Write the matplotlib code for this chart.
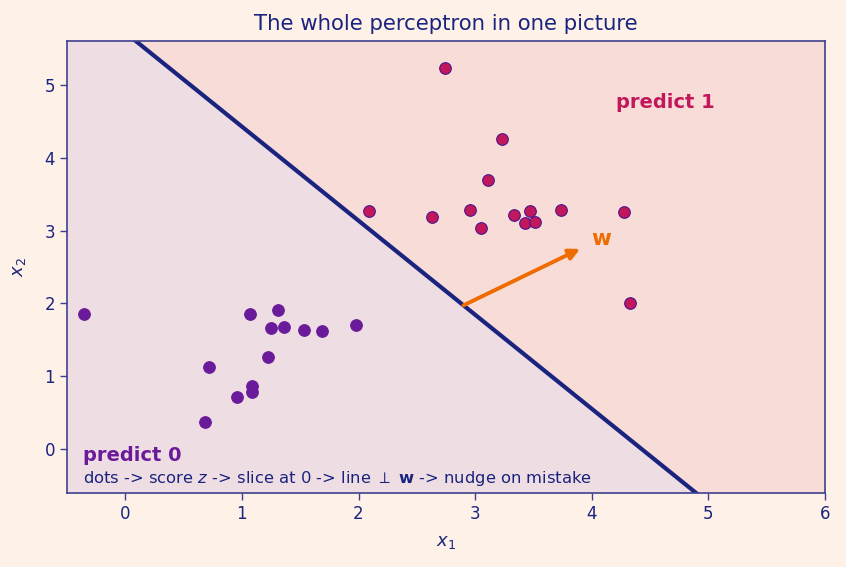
import numpy as np
import matplotlib
matplotlib.use("Agg")
import matplotlib.pyplot as plt

# data
class0_x1 = [-0.35, 1.07, 1.31, 1.25, 1.36, 1.53, 1.69, 1.98, 0.72, 1.22, 1.09, 1.09, 0.96, 0.68]
class0_x2 = [1.86, 1.85, 1.91, 1.67, 1.68, 1.63, 1.62, 1.71, 1.13, 1.27, 0.87, 0.78, 0.71, 0.38]
class1_x1 = [2.74, 3.23, 3.11, 2.09, 2.63, 2.96, 3.05, 3.33, 3.47, 3.43, 3.51, 3.74, 4.28, 4.33]
class1_x2 = [5.23, 4.26, 3.70, 3.27, 3.19, 3.28, 3.04, 3.21, 3.27, 3.10, 3.12, 3.28, 3.26, 2.00]
w = [1.0, 0.775]
b = -4.43
arrow_x1 = 2.9
xticks = [0, 1, 2, 3, 4, 5, 6]
yticks = [0, 1, 2, 3, 4, 5]

NAVY = "#1A237E"
PURPLE = "#6A1B9A"
CRIMSON = "#C2185B"
ORANGE = "#EF6C00"
SPINE = "#3F3F8F"
BG = "#FEF2E8"

fig = plt.figure(figsize=(8.46, 5.67), dpi=100, facecolor=BG)
ax = fig.add_axes([67/846, 1 - 493/567, (825-67)/846, (493-41)/567])
xlim = (-0.5, 6)
ylim = (-0.6, 5.6)
ax.set_xlim(*xlim)
ax.set_ylim(*ylim)

# regions
xs = np.linspace(xlim[0], xlim[1], 400)
yline = -(w[0] * xs + b) / w[1]
ax.fill_between(xs, ylim[0], np.clip(yline, ylim[0], ylim[1]), color="#EEDDE2", zorder=0, lw=0)
ax.fill_between(xs, np.clip(yline, ylim[0], ylim[1]), ylim[1], color="#F8DCD8", zorder=0, lw=0)
ax.plot(xs, yline, color=NAVY, lw=3, zorder=2)

ax.scatter(class0_x1, class0_x2, s=70, color=PURPLE, edgecolor=PURPLE, lw=0.8, zorder=3)
ax.scatter(class1_x1, class1_x2, s=70, color=CRIMSON, edgecolor="#4A148C", lw=0.8, zorder=3)

ay = -(w[0] * arrow_x1 + b) / w[1]
ax.annotate("", xy=(arrow_x1 + w[0], ay + w[1]), xytext=(arrow_x1, ay),
            arrowprops=dict(arrowstyle="-|>", color=ORANGE, lw=2.8, mutation_scale=16,
                            shrinkA=0, shrinkB=0), zorder=4)
ax.text(4.08, 2.88, "w", color=ORANGE, fontsize=15.5, fontweight="bold", ha="center", va="center")

ax.text(4.21, 4.75, "predict 1", color=CRIMSON, fontsize=14, fontweight="bold", ha="left", va="center")
ax.text(-0.36, -0.08, "predict 0", color=PURPLE, fontsize=14, fontweight="bold", ha="left", va="center")
ax.text(-0.36, -0.40, r"dots -> score $z$ -> slice at 0 -> line $\perp$ $\mathbf{w}$ -> nudge on mistake",
        color=NAVY, fontsize=11.8, ha="left", va="center")

ax.set_xticks(xticks)
ax.set_yticks(yticks)
ax.tick_params(colors=NAVY, labelsize=12, length=5, width=1, color=SPINE)
for s in ax.spines.values():
    s.set_color(SPINE)
    s.set_linewidth(1.2)
ax.set_xlabel(r"$x_1$", color=NAVY, fontsize=13, labelpad=7)
ax.set_ylabel(r"$x_2$", color=NAVY, fontsize=13, labelpad=12)
ax.set_title("The whole perceptron in one picture", color=NAVY, fontsize=15.3, pad=8)

fig.savefig("out.png", dpi=100, facecolor=BG)
